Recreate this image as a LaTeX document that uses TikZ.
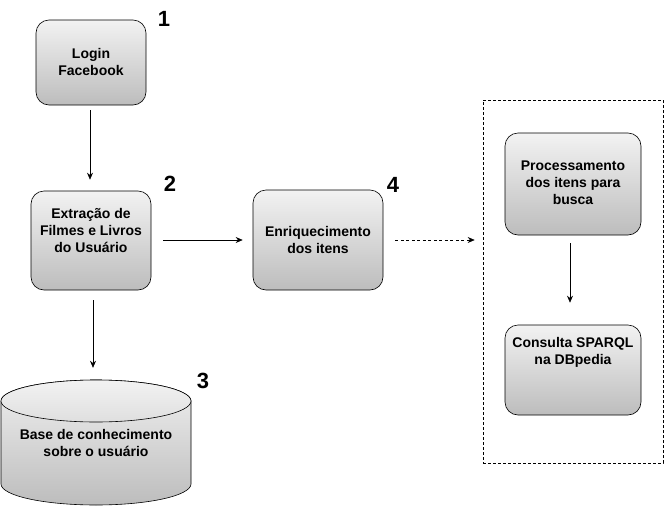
\documentclass[tikz,border=0pt]{standalone}
\usepackage{fontspec}
\setmainfont{Liberation Sans}
\usetikzlibrary{arrows.meta}
\begin{document}
\begin{tikzpicture}[x=1pt,y=-1pt,
  stepbox/.style={draw=black, line width=0.6pt, rounded corners=13pt, top color=gray!10, bottom color=gray!52, shading angle=0, inner sep=0pt},
  lbl/.style={font=\fontsize{14}{17}\selectfont\bfseries, align=center, inner sep=0pt},
  num/.style={font=\fontsize{22}{22}\selectfont\bfseries, anchor=center},
  conn/.style={line width=0.6pt, -{Stealth[length=7pt,width=6pt]}},
  dconn/.style={conn, dash pattern=on 3pt off 2.5pt}]
\useasboundingbox (0,0) rectangle (665,509);
% boxes
\node[stepbox, minimum width=110pt, minimum height=85pt] (b1) at (91,62.5) {};
\node[lbl] (login) at (91,62) {Login\\Facebook};
\node[stepbox, minimum width=120pt, minimum height=99pt] (b2) at (91,240.5) {};
\node[lbl] (extr) at (91,230) {Extração de\\Filmes e Livros\\do Usuário};
\node[stepbox, minimum width=130pt, minimum height=100pt] (b4) at (318,240) {};
\node[lbl] (enr) at (318,240) {Enriquecimento\\dos itens};
\node[draw=black, line width=0.6pt, dash pattern=on 3pt off 2pt, minimum width=180pt, minimum height=363pt, inner sep=0pt] (grp) at (573,281.5) {};
\node[stepbox, minimum width=136pt, minimum height=102pt] (bp) at (573,184) {};
\node[lbl] (proc) at (573,183) {Processamento\\dos itens para\\busca};
\node[stepbox, minimum width=136pt, minimum height=90pt] (bc) at (573,370) {};
\node[lbl] (cons) at (573,352) {Consulta SPARQL\\na DBpedia};
% cylinder
\path[draw=black, line width=0.6pt, top color=gray!12, bottom color=gray!52, shading angle=0]
  (1,401) -- (1,484) arc[start angle=180, end angle=360, x radius=95, y radius=-21] -- (191,401)
  arc[start angle=0, end angle=180, x radius=95, y radius=-21] -- cycle;
\path[draw=black, line width=0.6pt, top color=gray!10, bottom color=gray!25, shading angle=0]
  (96,401) ellipse[x radius=95, y radius=21];
\node[inner sep=0pt, minimum width=190pt, minimum height=125pt] (cyl) at (96,442.5) {};
\node[lbl] (base) at (96,443) {Base de conhecimento\\sobre o usuário};
% numbers
\node[num] (n1) at (164,19) {1};
\node[num] (n2) at (170,184) {2};
\node[num] (n3) at (203,381) {3};
\node[num] (n4) at (393,185) {4};
% connectors
\draw[conn, shorten <=5pt, shorten >=11pt] ([xshift=-1pt]b1.south) -- ([xshift=-1pt]b1.south |- b2.north);
\draw[conn, shorten <=12pt, shorten >=10pt] (b2.east |- b4.west) -- (b4.west);
\draw[dconn, shorten <=12pt, shorten >=8pt] (b4.east) -- (b4.east -| grp.west);
\draw[conn, shorten <=10pt, shorten >=12pt] ([xshift=2pt]b2.south) -- ([xshift=2pt]b2.south |- cyl.north);
\draw[conn, shorten <=8pt, shorten >=22pt] ([xshift=-3pt]bp.south) -- ([xshift=-3pt]bp.south |- bc.north);
\end{tikzpicture}
\end{document}
